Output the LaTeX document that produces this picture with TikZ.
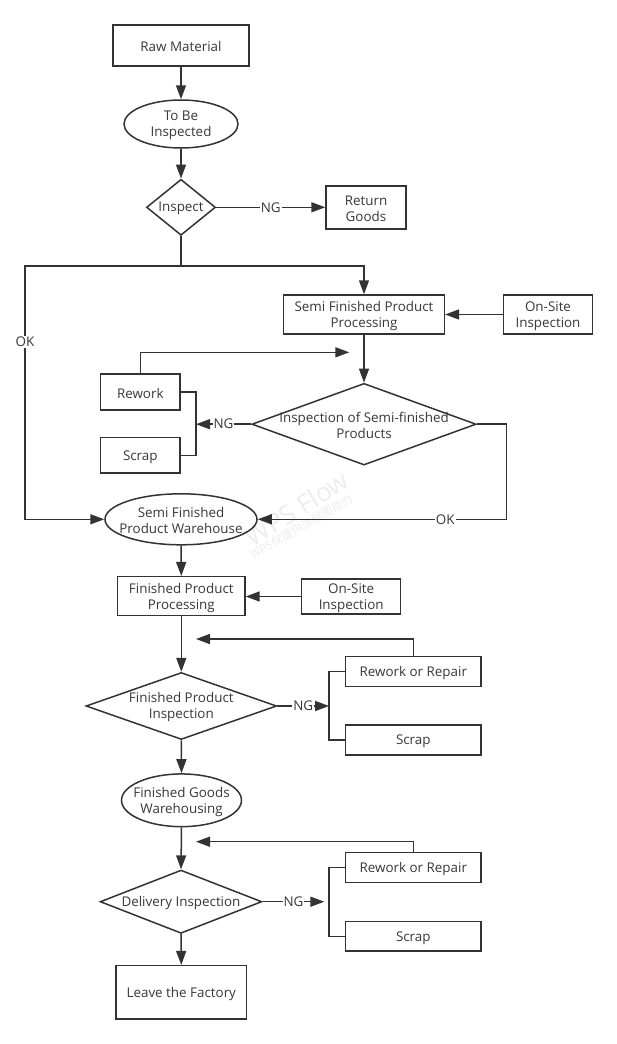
\documentclass[tikz,border=0pt]{standalone}
\usepackage{fontspec}
\setmainfont{Open Sans}
\newfontfamily\cjkfont{Noto Sans CJK SC}
\usetikzlibrary{shapes.geometric,arrows.meta,calc}
\definecolor{lc}{HTML}{333333}
\definecolor{tc}{HTML}{383838}
\begin{document}
\begin{tikzpicture}[x=1pt,y=-1pt,
  shp/.style={draw=lc, line width=1.5pt, inner sep=0pt, fill=white},
  box/.style={shp, rectangle},
  ell/.style={shp, ellipse},
  dia/.style={shp, diamond},
  txt/.style={font=\fontsize{13.4}{16}\selectfont, text=tc, align=center, inner sep=0pt},
  T/.style={label={[txt, yshift=-1.5pt]center:#1}},
  lbl/.style={txt, fill=white, inner sep=1pt},
  conn/.style={draw=lc, line width=1.5pt},
  arr/.style={conn, -{Triangle[length=14pt,width=10pt]}},
]
\fill[white] (0,0) rectangle (616,1044);
\useasboundingbox (0,0) rectangle (616,1044);

% nodes
\node[box, minimum width=136pt, minimum height=41pt, T={Raw Material}] (raw) at (181,45.3) {};
\node[ell, minimum width=114pt, minimum height=48pt, T={To Be\\Inspected}] (tbi) at (181,124) {};
\node[dia, minimum width=69pt, minimum height=56pt, T={Inspect}] (insp) at (181,207.3) {};
\node[box, minimum width=80pt, minimum height=43pt, T={Return\\Goods}] (ret) at (366,207.3) {};
\node[box, minimum width=160.7pt, minimum height=39pt, T={Semi Finished Product\\Processing}] (sfpp) at (364,314.5) {};
\node[box, minimum width=89pt, minimum height=39pt, T={On-Site\\Inspection}] (osi1) at (548,314.5) {};
\node[dia, minimum width=224.3pt, minimum height=81.7pt, T={Inspection of Semi-finished\\Products}] (isfp) at (364,424.2) {};
\node[box, minimum width=79.3pt, minimum height=36pt, T={Rework}] (rew) at (140.3,392) {};
\node[box, minimum width=79.3pt, minimum height=35.3pt, T={Scrap}] (scr1) at (140.3,455.3) {};
\node[ell, minimum width=152pt, minimum height=51pt, T={Semi Finished\\Product Warehouse}] (sfpw) at (181,519.3) {};
\node[box, minimum width=127.3pt, minimum height=39pt, T={Finished Product\\Processing}] (fpp) at (181.3,596.2) {};
\node[box, minimum width=99pt, minimum height=35pt, T={On-Site\\Inspection}] (osi2) at (351.2,596.5) {};
\node[dia, minimum width=190.7pt, minimum height=67pt, T={Finished Product\\Inspection}] (fpi) at (181.3,706) {};
\node[box, minimum width=135.3pt, minimum height=30pt, T={Rework or Repair}] (rr1) at (413.3,671.7) {};
\node[box, minimum width=135.3pt, minimum height=30pt, T={Scrap}] (scr2) at (413.3,740) {};
\node[ell, minimum width=120pt, minimum height=52.7pt, T={Finished Goods\\Warehousing}] (fgw) at (181.5,800.3) {};
\node[dia, minimum width=161.7pt, minimum height=63.3pt, T={Delivery Inspection}] (di) at (181,901.7) {};
\node[box, minimum width=135.3pt, minimum height=29.6pt, T={Rework or Repair}] (rr2) at (413.3,867.5) {};
\node[box, minimum width=135.3pt, minimum height=29.3pt, T={Scrap}] (scr3) at (413.3,936.3) {};
\node[box, minimum width=130.7pt, minimum height=53.3pt, T={Leave the Factory}] (ltf) at (181.3,992.3) {};

% helper coordinates
\coordinate (j1) at (181,266);
\coordinate (jl) at (25,266);
\coordinate (jr) at (364,266);
\coordinate (b1) at (196,424.2);
\coordinate (r1) at (349.3,352.3);
\coordinate (c2) at (506.7,519.3);
\coordinate (r2) at (196,639);
\coordinate (b2) at (329,706);
\coordinate (r3) at (196,841.7);
\coordinate (b3) at (324.3,901.7);
\coordinate (b3x) at (329,901.7);

% connectors
\draw[arr] (raw.south) -- (tbi.north);
\draw[arr] (tbi.south) -- (insp.north);
\draw[arr] (insp.east) -- node[lbl]{NG} (insp.east -| ret.west);
\draw[conn] (insp.south) -- (j1);
\draw[arr] (j1) -- (jl) -- node[lbl,pos=0.3]{OK} (jl |- sfpw.west) -- (sfpw.west);
\draw[arr] (j1) -- (jr) -- (sfpp.north);
\draw[arr] (osi1.west) -- (sfpp.east);
\draw[arr] (sfpp.south) -- (isfp.north);
\draw[arr] (isfp.west) -- node[lbl]{NG} (b1);
\draw[conn] (rew.east) -- (rew.east -| b1) -- (scr1.east -| b1) -- (scr1.east);
\draw[arr] (rew.north) |- (r1);
\draw[arr] (isfp.east) -| (c2) -- node[lbl,pos=0.247]{OK} (sfpw.east);
\draw[arr] (sfpw.south) -- (fpp.north);
\draw[arr] (osi2.west) -- (osi2.west -| fpp.east);
\draw[arr] (fpp.south) -- (fpi.north);
\draw[arr] (rr1.north) |- (r2);
\draw[arr] (fpi.east) -- node[lbl]{NG} (b2);
\draw[conn] (rr1.west) -- (rr1.west -| b2) -- (scr2.west -| b2) -- (scr2.west);
\draw[arr] (fpi.south) -- (fgw.north);
\draw[arr] (fgw.south) -- (di.north);
\draw[arr] (rr2.north) |- (r3);
\draw[arr] (di.east) -- node[lbl]{NG} (b3);
\draw[conn] (rr2.west) -- (rr2.west -| b3x) -- (scr3.west -| b3x) -- (scr3.west);
\draw[arr] (di.south) -- (ltf.north);

% watermark
\node[rotate=32, text=black, opacity=0.07, font=\fontsize{26}{26}\selectfont, inner sep=0pt] (wm) at (296.7,508.3) {WPS Flow};
\node[rotate=30, text=black, opacity=0.07, font=\cjkfont\fontsize{11.5}{12}\selectfont, inner sep=0pt] (wm2) at (301.5,526.7) {WPS仅提供流程图能力};
\end{tikzpicture}
\end{document}
